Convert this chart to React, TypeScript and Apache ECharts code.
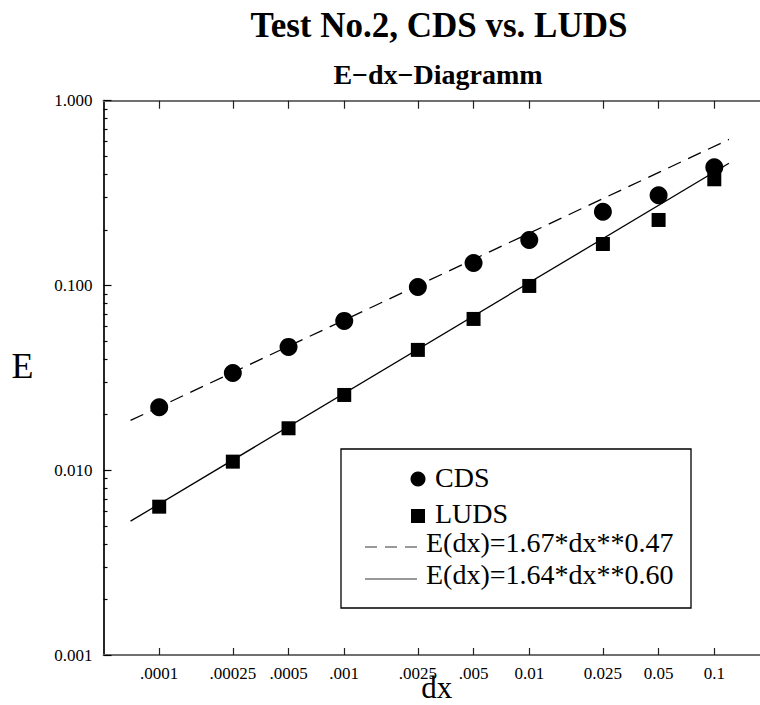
import React, { useEffect, useRef } from "react";
import * as echarts from "echarts";

// Grid spacing dx and the tick labels printed under the axis
const dxTicks = [0.0001, 0.00025, 0.0005, 0.001, 0.0025, 0.005, 0.01, 0.025, 0.05, 0.1];
const dxTickLabels = [".0001", ".00025", ".0005", ".001", ".0025", ".005", "0.01", "0.025", "0.05", "0.1"];

// Error axis: decade ticks with labels, plus minor ticks 2..9 in each decade
const eMajorTicks = [0.001, 0.01, 0.1, 1];
const eTickLabels = ["0.001", "0.010", "0.100", "1.000"];
const eMinorTicks = [
  0.002, 0.003, 0.004, 0.005, 0.006, 0.007, 0.008, 0.009,
  0.02, 0.03, 0.04, 0.05, 0.06, 0.07, 0.08, 0.09,
  0.2, 0.3, 0.4, 0.5, 0.6, 0.7, 0.8, 0.9,
];

// Measured error E per grid spacing
const cdsErrors = [0.0219, 0.0336, 0.0465, 0.0643, 0.0982, 0.1324, 0.1763, 0.2507, 0.3077, 0.436];
const ludsErrors = [0.00635, 0.01113, 0.01687, 0.02555, 0.0448, 0.0659, 0.0994, 0.1677, 0.2262, 0.3756];

// Power-law fits (straight lines in log-log), given by their end points
const fitDx = [0.00007, 0.12];
const cdsFitE = [0.0186, 0.617];
const ludsFitE = [0.0053, 0.459];

const SERIF = "Liberation Serif";

const labelFor = (values: number[], labels: string[], v: number) => {
  for (let i = 0; i < values.length; i++) {
    if (Math.abs(Math.log10(v) - Math.log10(values[i])) < 1e-6) return labels[i];
  }
  return "";
};

const legendText = (text: string, x: number, y: number) => ({
  type: "text",
  x,
  y,
  style: { text, fontFamily: SERIF, fontSize: 28, lineHeight: 24, fill: "#000", verticalAlign: "middle" },
});

export default function App() {
  const ref = useRef<HTMLDivElement>(null);

  useEffect(() => {
    if (!ref.current) return;
    const chart = echarts.init(ref.current, undefined, { renderer: "svg" });

    const xRange = { min: 0.00005, max: 0.2 };
    const yRange = { min: 0.001, max: 1 };

    const option: any = {
      animation: false,
      backgroundColor: "#fff",
      textStyle: { fontFamily: SERIF },
      title: [
        {
          text: "Test No.2, CDS vs. LUDS",
          left: 439,
          top: 8,
          textAlign: "center",
          padding: 0,
          textStyle: { fontFamily: SERIF, fontSize: 35, fontWeight: "bold", color: "#000" },
        },
        {
          text: "E\u2212dx\u2212Diagramm",
          left: 438,
          top: 60,
          textAlign: "center",
          padding: 0,
          textStyle: { fontFamily: SERIF, fontSize: 28, fontWeight: "bold", color: "#000" },
        },
      ],
      grid: { left: 103.5, right: 0, top: 100.7, bottom: 50, containLabel: false, outerBoundsMode: "none" },
      xAxis: [
        {
          type: "log",
          logBase: 10,
          ...xRange,
          position: "bottom",
          name: "dx",
          nameLocation: "middle",
          nameGap: 32.5,
          nameMoveOverlap: false,
          nameTextStyle: { fontFamily: SERIF, fontSize: 31, lineHeight: 16, color: "#000", verticalAlign: "middle" },
          axisLine: { show: true, lineStyle: { color: "#707070", width: 2 } },
          axisTick: { show: true, inside: true, length: 7, customValues: dxTicks, lineStyle: { color: "#222", width: 1.2 } },
          axisLabel: {
            show: true,
            customValues: dxTicks,
            margin: 12,
            fontFamily: SERIF,
            fontSize: 17,
            lineHeight: 12,
            color: "#000",
            formatter: (v: number) => labelFor(dxTicks, dxTickLabels, v),
          },
          splitLine: { show: false },
          minorTick: { show: false },
        },
        {
          type: "log",
          logBase: 10,
          ...xRange,
          position: "top",
          axisLine: { show: true, lineStyle: { color: "#707070", width: 2 } },
          axisTick: { show: true, inside: true, length: 8, customValues: dxTicks, lineStyle: { color: "#222", width: 1.2 } },
          axisLabel: { show: false },
          splitLine: { show: false },
        },
      ],
      yAxis: [
        {
          type: "log",
          logBase: 10,
          ...yRange,
          position: "left",
          name: "E",
          nameLocation: "middle",
          nameRotate: 0,
          nameGap: 70,
          nameMoveOverlap: false,
          nameTextStyle: { fontFamily: SERIF, fontSize: 36, color: "#000", verticalAlign: "bottom", lineHeight: 24 },
          axisLine: { show: true, lineStyle: { color: "#000", width: 1.7 } },
          axisTick: { show: true, inside: true, length: 8, customValues: eMajorTicks, lineStyle: { color: "#000", width: 1.2 } },
          axisLabel: {
            show: true,
            customValues: eMajorTicks,
            margin: 11,
            fontFamily: SERIF,
            fontSize: 17,
            color: "#000",
            formatter: (v: number) => labelFor(eMajorTicks, eTickLabels, v),
          },
          splitLine: { show: false },
        },
        {
          type: "log",
          logBase: 10,
          ...yRange,
          position: "left",
          axisLine: { show: false },
          axisTick: { show: true, inside: true, length: 4, customValues: eMinorTicks, lineStyle: { color: "#000", width: 1.2 } },
          axisLabel: { show: false },
          splitLine: { show: false },
        },
      ],
      series: [
        {
          name: "E(dx)=1.67*dx**0.47",
          type: "line",
          symbol: "none",
          data: fitDx.map((d, i) => [d, cdsFitE[i]]),
          lineStyle: { color: "#000", width: 1.3, type: [14, 8] },
          z: 2,
        },
        {
          name: "E(dx)=1.64*dx**0.60",
          type: "line",
          symbol: "none",
          data: fitDx.map((d, i) => [d, ludsFitE[i]]),
          lineStyle: { color: "#000", width: 1.3, type: "solid" },
          z: 2,
        },
        {
          name: "CDS",
          type: "scatter",
          symbol: "circle",
          symbolSize: 18,
          data: dxTicks.map((d, i) => [d, cdsErrors[i]]),
          itemStyle: { color: "#000", opacity: 1 },
          z: 3,
        },
        {
          name: "LUDS",
          type: "scatter",
          symbol: "rect",
          symbolSize: 14,
          data: dxTicks.map((d, i) => [d, ludsErrors[i]]),
          itemStyle: { color: "#000", opacity: 1 },
          z: 3,
        },
      ],
      graphic: [
        {
          type: "group",
          z: 10,
          children: [
            { type: "rect", shape: { x: 341, y: 449, width: 350, height: 159 }, style: { fill: "#fff", stroke: "#000", lineWidth: 1.3 } },
            { type: "circle", shape: { cx: 418, cy: 479, r: 7.5 }, style: { fill: "#000" } },
            legendText("CDS", 435, 477),
            { type: "rect", shape: { x: 411, y: 509, width: 14, height: 14 }, style: { fill: "#000" } },
            legendText("LUDS", 435, 513),
            { type: "line", shape: { x1: 365, y1: 547, x2: 417, y2: 547 }, style: { stroke: "#333", lineWidth: 1, lineDash: [12, 8] } },
            legendText("E(dx)=1.67*dx**0.47", 426, 542),
            { type: "line", shape: { x1: 365, y1: 579, x2: 417, y2: 579 }, style: { stroke: "#333", lineWidth: 1 } },
            legendText("E(dx)=1.64*dx**0.60", 426, 574),
          ],
        },
      ],
    };

    chart.setOption(option);
    return () => chart.dispose();
  }, []);

  return (
    <div style={{ position: "fixed", left: 0, top: 0, width: 760, height: 705, overflow: "hidden", background: "#fff" }}>
      <div ref={ref} style={{ width: 770, height: 705 }} />
    </div>
  );
}
